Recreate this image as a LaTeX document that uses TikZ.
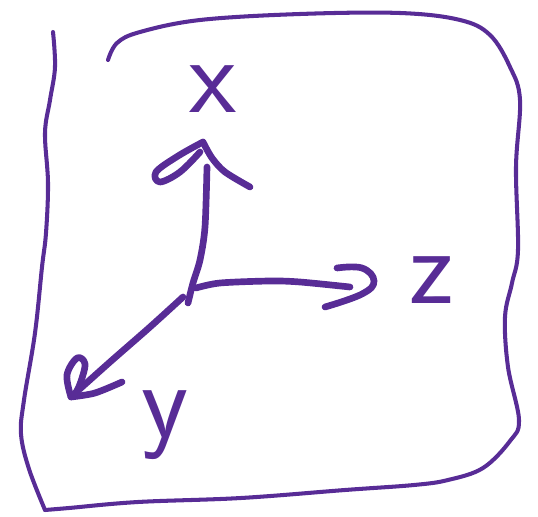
\documentclass[tikz,border=0pt]{standalone}
\usepackage{tikz}
\definecolor{marker}{RGB}{88,44,150}
\begin{document}
\begin{tikzpicture}[
    x=0.02cm, y=-0.02cm,
    frame/.style={draw=marker, line width=2.3pt, line cap=round, line join=round},
    stroke/.style={draw=marker, line width=3.8pt, line cap=round, line join=round},
    axislabel/.style={text=marker, inner sep=0pt, anchor=base, font=\sffamily\fontsize{62}{62}\selectfont},
]
\useasboundingbox (0,0) rectangle (538,517);
% frame
\draw[frame] plot[smooth, tension=0.6] coordinates {(53,32) (55,67) (50,100) (45,133) (48,183) (46,233) (42,267) (35,333) (24,400) (21,434) (29,469) (45,510)};
\draw[frame] plot[smooth, tension=0.6] coordinates {(45,510) (69,508) (138,502) (241,498) (345,490) (414,485) (448,480) (483,468) (510,441) (519,420) (508,367) (505,317) (512,283) (518,250) (516,167) (520,100) (510,67) (490,35) (460,20) (400,13) (300,14) (200,20) (140,32) (117,43) (108,60)};
% axes
\coordinate (xtip) at (203,142);
\coordinate (ztip) at (374,281);
\coordinate (ytip) at (71,397);
\draw[stroke] plot[smooth] coordinates {(207,167) (205,227) (200,260) (193,283) (188,303)};
\draw[stroke] plot[smooth] coordinates {(196,288) (220,283) (270,281) (300,282) (350,287)};
\draw[stroke] plot[smooth] coordinates {(183,297) (150,327) (110,362) (72,396)};
% arrow heads
\draw[stroke] plot[smooth, tension=0.6] coordinates {(xtip) (178,156) (156,172) (160,182) (180,172) (200,152)};
\draw[stroke] plot[smooth] coordinates {(xtip) (212,158) (225,172) (250,187)};
\draw[stroke] plot[smooth, tension=0.7] coordinates {(337,268) (362,268) (ztip) (362,294) (325,307)};
\draw[stroke] plot[smooth, tension=0.6] coordinates {(ytip) (67,375) (77,358) (85,364) (80,384) (74,396)};
\draw[stroke] plot[smooth] coordinates {(ytip) (95,393) (122,382)};
% labels
\node[axislabel] (xlabel) at (213,113) {x};
\node[axislabel] (zlabel) at (432,303) {z};
\node[axislabel] (ylabel) at (165,437) {y};
\end{tikzpicture}
\end{document}
